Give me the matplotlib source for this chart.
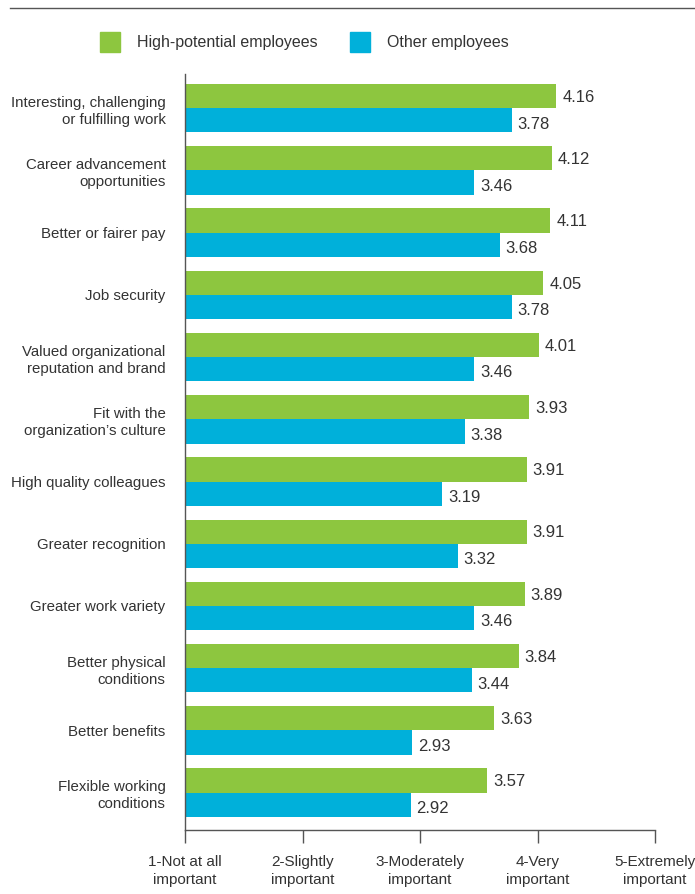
import matplotlib.pyplot as plt
import numpy as np
from matplotlib.patches import Rectangle

plt.rcParams['font.family'] = ['Liberation Sans', 'DejaVu Sans']

categories = [
    "Interesting, challenging\nor fulfilling work",
    "Career advancement\nopportunities",
    "Better or fairer pay",
    "Job security",
    "Valued organizational\nreputation and brand",
    "Fit with the\norganization\u2019s culture",
    "High quality colleagues",
    "Greater recognition",
    "Greater work variety",
    "Better physical\nconditions",
    "Better benefits",
    "Flexible working\nconditions",
]
high_potential = [4.16, 4.12, 4.11, 4.05, 4.01, 3.93, 3.91, 3.91, 3.89, 3.84, 3.63, 3.57]
other = [3.78, 3.46, 3.68, 3.78, 3.46, 3.38, 3.19, 3.32, 3.46, 3.44, 2.93, 2.92]
scale_labels = ["1-Not at all\nimportant", "2-Slightly\nimportant", "3-Moderately\nimportant",
                "4-Very\nimportant", "5-Extremely\nimportant"]
series_names = ["High-potential employees", "Other employees"]

green = '#8DC63F'
blue = '#00B0DA'
dark = '#333333'

W, H = 695, 894
fig = plt.figure(figsize=(W / 100, H / 100), dpi=100)
ax = fig.add_axes([185 / W, 1 - 830 / H, (655 - 185) / W, (830 - 74) / H])

y = np.arange(len(categories))
h = 0.39
ax.barh(y - h / 2, high_potential, height=h, color=green)
ax.barh(y + h / 2, other, height=h, color=blue)

for yi, v in zip(y, high_potential):
    ax.text(v + 0.05, yi - h / 2 + 0.02, f"{v:.2f}", va='center', ha='left',
            fontsize=12, color=dark)
for yi, v in zip(y, other):
    ax.text(v + 0.05, yi + h / 2 + 0.06, f"{v:.2f}", va='center', ha='left',
            fontsize=12, color=dark)

ax.set_xlim(1, 5)
ax.set_ylim(len(categories) - 1 + 0.6, -0.55)

ax.set_yticks(y)
ax.set_yticklabels(categories, fontsize=10.8, color=dark, linespacing=1.3)
ax.tick_params(axis='y', length=0, pad=14)

ax.set_xticks([1, 2, 3, 4, 5])
ax.set_xticklabels(scale_labels, fontsize=11, color=dark, linespacing=1.4)
ax.tick_params(axis='x', length=9, width=1, color='#555555', pad=9)

for side in ['top', 'right']:
    ax.spines[side].set_visible(False)
for side in ['left', 'bottom']:
    ax.spines[side].set_color('#555555')
    ax.spines[side].set_linewidth(1)

# rule across the top
fig.add_artist(plt.Line2D([10 / W, 1], [1 - 8 / H, 1 - 8 / H], color='#555555', lw=1))

# legend
for x0, col, name in [(100, green, series_names[0]), (350, blue, series_names[1])]:
    fig.add_artist(Rectangle((x0 / W, 1 - 52 / H), 20 / W, 20 / H, color=col,
                             transform=fig.transFigure))
    fig.text((x0 + 37) / W, 1 - 42 / H, name, va='center', ha='left',
             fontsize=11.5, color=dark)

fig.savefig('out.png', dpi=100)
